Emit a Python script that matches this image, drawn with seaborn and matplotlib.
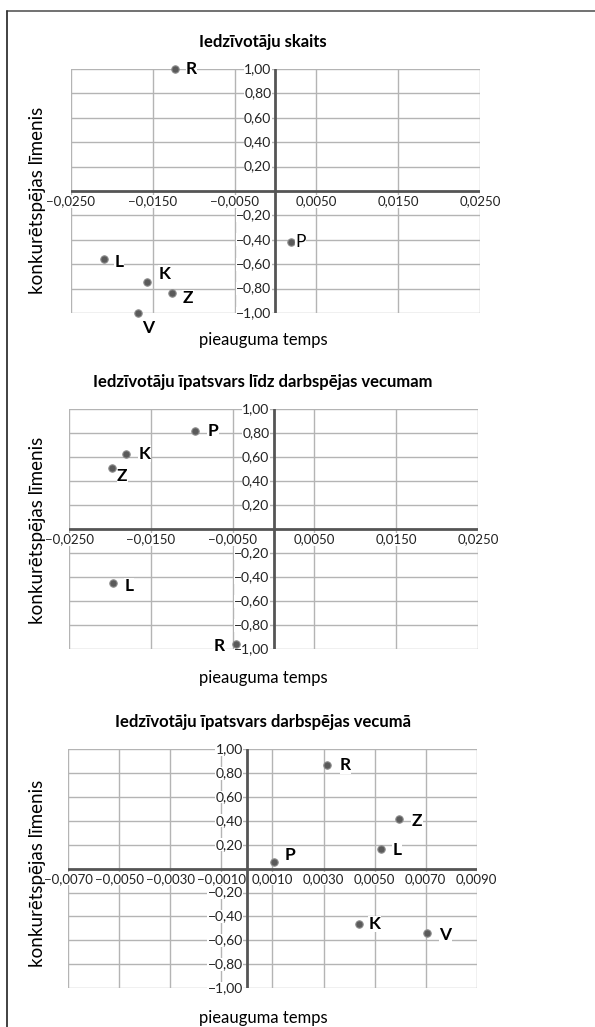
import matplotlib

matplotlib.use("Agg")
import matplotlib.pyplot as plt
import numpy as np
import pandas as pd
import seaborn as sns

sns.set_theme(style="white")
plt.rcParams["font.family"] = ["Lato", "DejaVu Sans"]

# chart titles
titles = [
    "Iedzīvotāju skaits",
    "Iedzīvotāju īpatsvars līdz darbspējas vecumam",
    "Iedzīvotāju īpatsvars darbspējas vecumā",
]

# chart 1: population
labels_1 = ["R", "P", "L", "K", "Z", "V"]
growth_1 = [-0.0123, 0.0019, -0.0210, -0.0157, -0.0127, -0.0168]
level_1 = [1.00, -0.42, -0.556, -0.745, -0.833, -1.00]

# chart 2: share below working age
labels_2 = ["P", "K", "Z", "L", "R"]
growth_2 = [-0.0096, -0.0180, -0.0198, -0.0196, -0.0046]
level_2 = [0.822, 0.630, 0.514, -0.450, -0.958]

# chart 3: share of working age
labels_3 = ["R", "Z", "L", "P", "K", "V"]
growth_3 = [0.00315, 0.00597, 0.00526, 0.00104, 0.00438, 0.00705]
level_3 = [0.866, 0.419, 0.168, 0.053, -0.464, -0.542]

x_ticks_1 = [-0.025, -0.015, -0.005, 0.005, 0.015, 0.025]
x_ticks_3 = [-0.007, -0.005, -0.003, -0.001, 0.001, 0.003, 0.005, 0.007, 0.009]
y_ticks = [-1.0, -0.8, -0.6, -0.4, -0.2, 0.2, 0.4, 0.6, 0.8, 1.0]

# label offsets in points (dx, dy), bold flag
offsets_1 = {"R": (8, 0, True), "P": (3, 0, False), "L": (8, -2, True),
             "K": (8, 6, True), "Z": (8, -4, True), "V": (3, -11, True)}
offsets_2 = {"P": (9, 0, True), "K": (9, 0, True), "Z": (4, -6, True),
             "L": (8, -2, True), "R": (-16, -1, True)}
offsets_3 = {"R": (9, 0, True), "Z": (9, -2, True), "L": (8, -1, True),
             "P": (8, 5, True), "K": (7, 0, True), "V": (9, -1, True)}

GRID = "#b4b4b4"
AXIS = "#555555"


def fmt(v, nd):
    s = f"{abs(v):.{nd}f}".replace(".", ",")
    return ("\u2212" + s) if v < 0 else s


def draw_panel(fig, rect, labels, xs, ys, xlim, xticks, offsets):
    ax = fig.add_axes(rect)
    df = pd.DataFrame({"x": xs, "y": ys, "name": labels})
    ax.set_xlim(*xlim)
    ax.set_ylim(-1.0, 1.0)
    for xt in xticks:
        ax.axvline(xt, color=GRID, lw=1.0, zorder=0)
    for yt in y_ticks:
        ax.axhline(yt, color=GRID, lw=1.0, zorder=0)
    ax.axhline(0, color=AXIS, lw=2.0, zorder=1)
    ax.axvline(0, color=AXIS, lw=2.0, zorder=1)
    for sp in ax.spines.values():
        sp.set_visible(False)
    ax.set_xticks([])
    ax.set_yticks([])
    # y tick labels next to the vertical zero axis
    for yt in y_ticks:
        ax.annotate(fmt(yt, 2), (0, yt), xytext=(-3, 0), textcoords="offset points",
                    ha="right", va="center", fontsize=10, color="#222222",
                    bbox=dict(facecolor="white", edgecolor="none", pad=0.3), zorder=3)
    # x tick labels below the horizontal zero axis
    for xt in xticks:
        ax.annotate(fmt(xt, 4), (xt, 0), xytext=(0, -3), textcoords="offset points",
                    ha="center", va="top", fontsize=9.5, color="#222222",
                    bbox=dict(facecolor="white", edgecolor="none", pad=0.3), zorder=3)
    sns.scatterplot(data=df, x="x", y="y", ax=ax, s=28, color="#5a5a5a",
                    edgecolor="#8a8a8a", linewidth=0.8, zorder=5, clip_on=False)
    for _, row in df.iterrows():
        dx, dy, bold = offsets[row["name"]]
        ax.annotate(row["name"], (row["x"], row["y"]), xytext=(dx, dy),
                    textcoords="offset points", ha="left", va="center",
                    fontsize=12.5, fontweight="bold" if bold else "normal",
                    color="black", zorder=6,
                    bbox=dict(facecolor="white", edgecolor="none", pad=0.2))
    ax.set_xlabel("")
    ax.set_ylabel("")
    return ax


fig = plt.figure(figsize=(5.95, 10.27), dpi=100)

panels = [
    ([0.1193, 0.6952, 0.6874, 0.2376], labels_1, growth_1, level_1,
     (-0.025, 0.025), x_ticks_1, offsets_1),
    ([0.1160, 0.3678, 0.6874, 0.2337], labels_2, growth_2, level_2,
     (-0.025, 0.025), x_ticks_1, offsets_2),
    ([0.1148, 0.0380, 0.6863, 0.2324], labels_3, growth_3, level_3,
     (-0.007, 0.009), x_ticks_3, offsets_3),
]
title_y = [1 - 42 / 1027, 1 - 382 / 1027, 1 - 722 / 1027]
xlabel_y = [1 - 340 / 1027, 1 - 678 / 1027, 1 - 1018 / 1027]
ylabel_y = [1 - 200 / 1027, 1 - 530 / 1027, 1 - 873 / 1027]

for i, (rect, lab, xs, ys, xl, xt, off) in enumerate(panels):
    draw_panel(fig, rect, lab, xs, ys, xl, xt, off)
    fig.text(0.442, title_y[i], titles[i], ha="center", va="center",
             fontsize=12, fontweight="bold", color="black")
    fig.text(0.442, xlabel_y[i], "pieauguma temps", ha="center", va="center",
             fontsize=12, color="black")
    fig.text(38 / 595, ylabel_y[i], "konkurētspējas līmenis", ha="center",
             va="center", rotation=90, fontsize=13.5, color="black")

# frame: top and left border lines
fig.add_artist(plt.Line2D([7 / 595, 1.0], [1 - 11 / 1027, 1 - 11 / 1027],
                          color="#666666", lw=1.3))
fig.add_artist(plt.Line2D([7 / 595, 7 / 595], [0.0, 1 - 11 / 1027],
                          color="#333333", lw=1.3))

fig.savefig("out.png", dpi=100)
